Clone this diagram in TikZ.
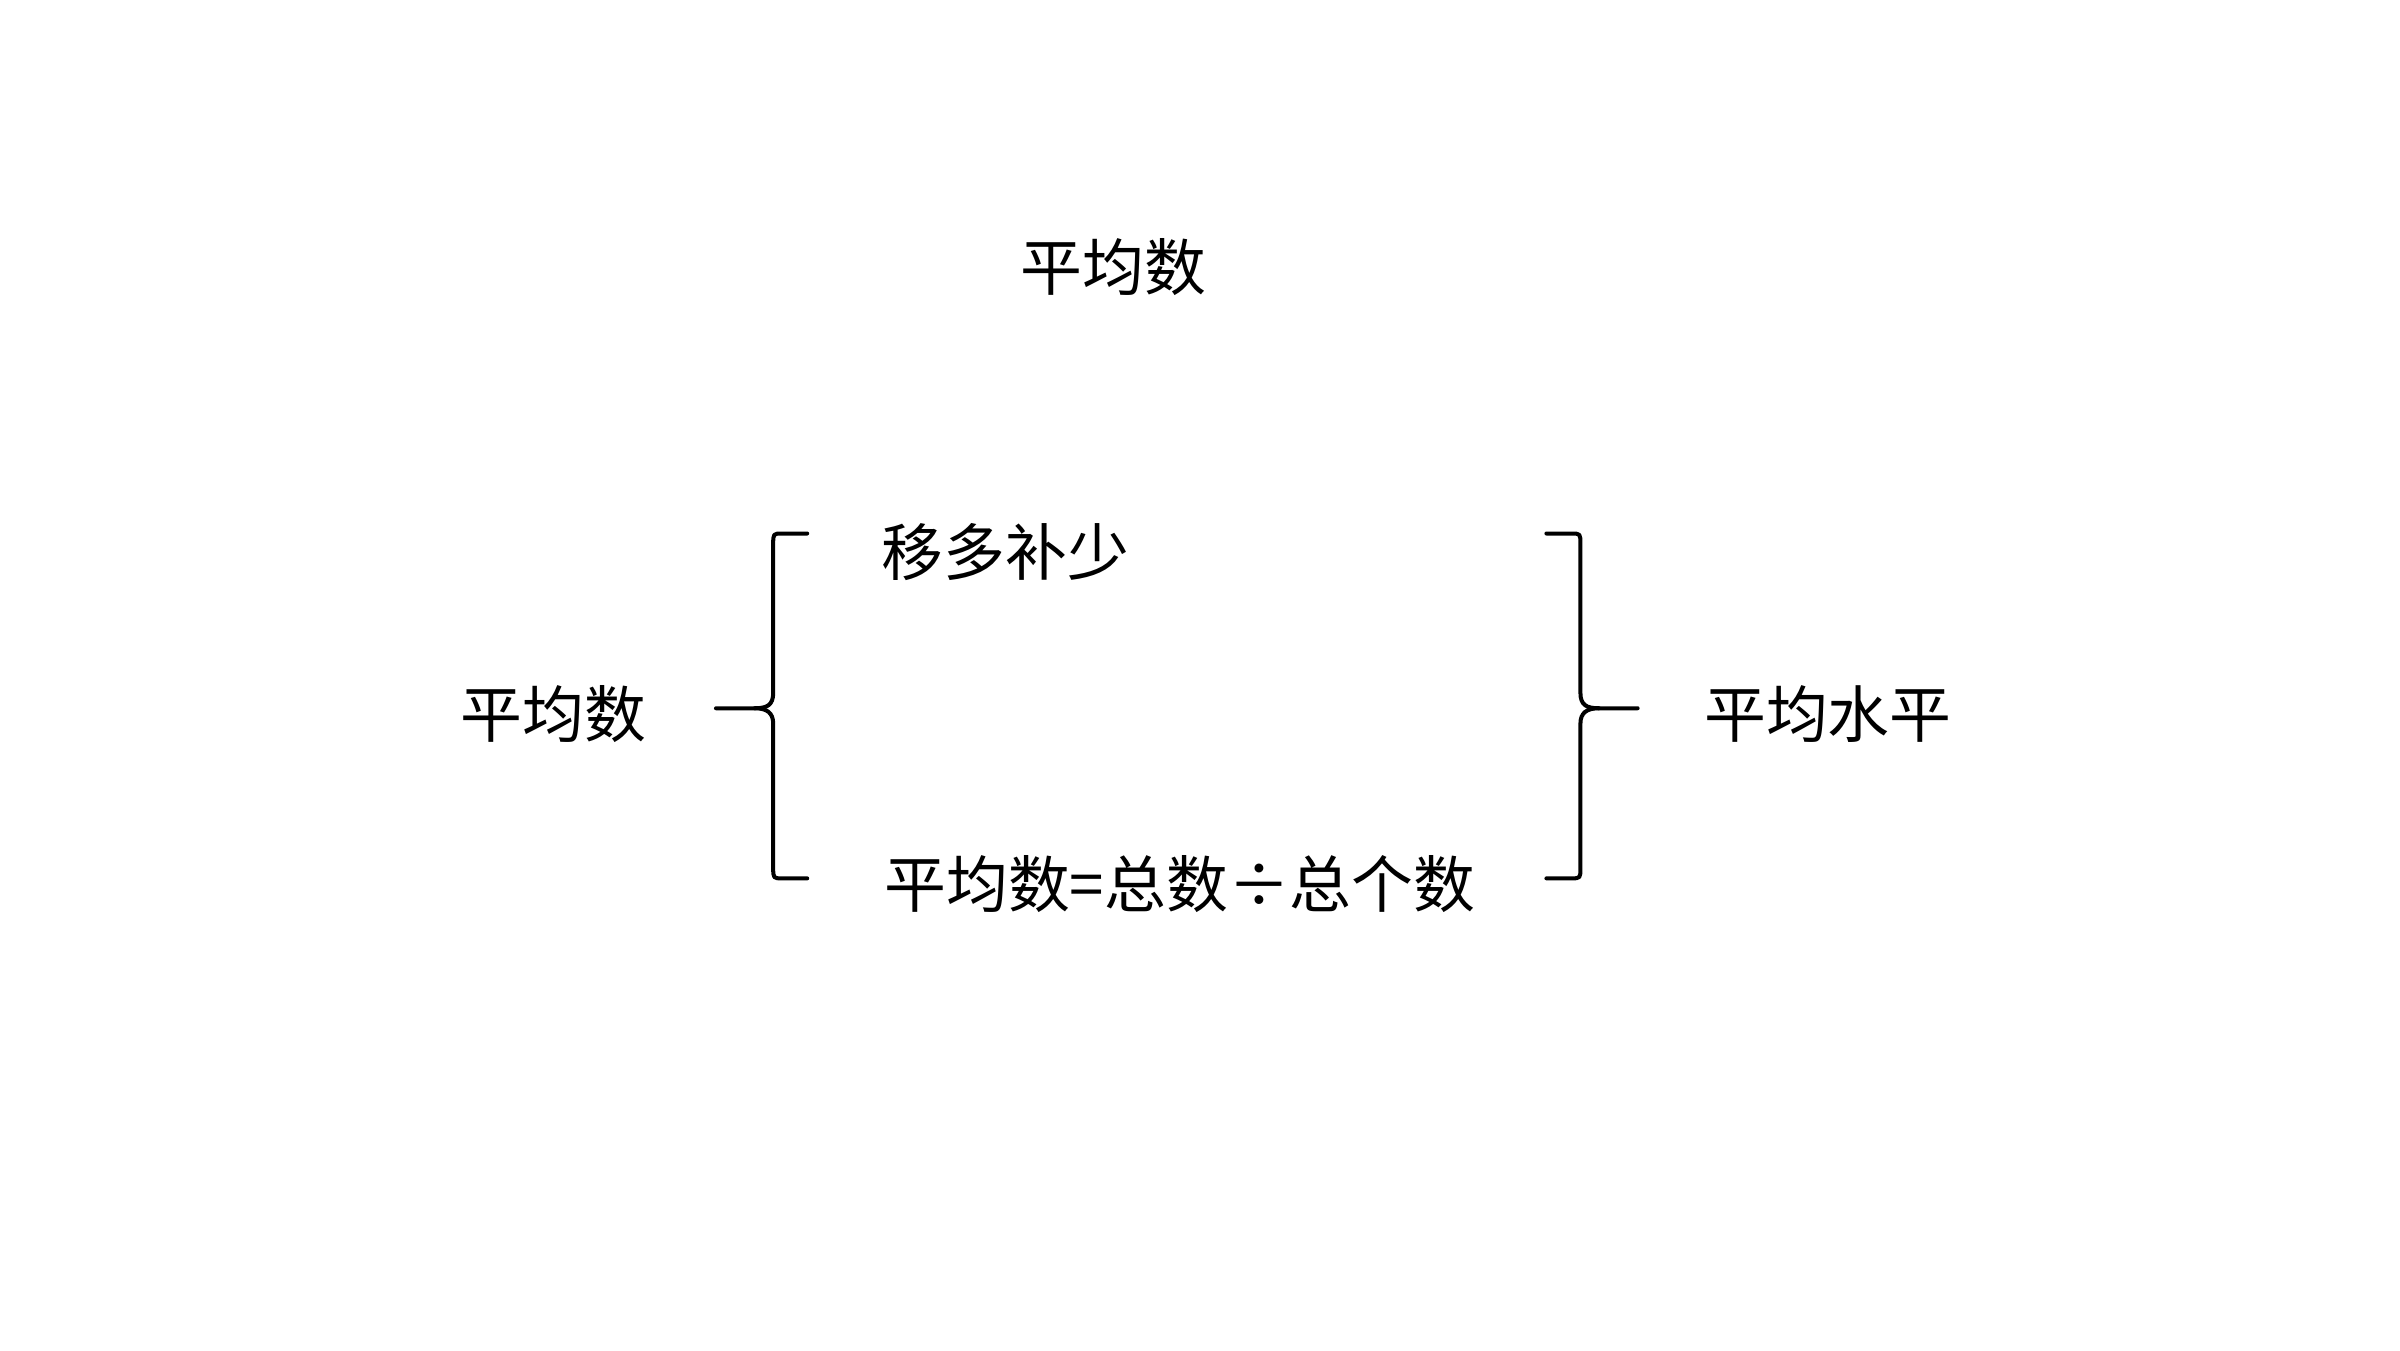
\documentclass[tikz,border=0pt]{standalone}
\usepackage{fontspec}
\newfontfamily\cjk{Noto Sans CJK SC}
\begin{document}
\begin{tikzpicture}[x=1pt,y=-1pt,
  lbl/.style={font=\cjk\fontsize{40}{44}\selectfont, inner sep=0pt},
  br/.style={line width=2.6pt, line cap=round, line join=round}]
\useasboundingbox (0,0) rectangle (1552,873);
\node[lbl] (title) at (720,173) {平均数};
\node[lbl] (left) at (358,462) {平均数};
\node[lbl] (top) at (650,357) {移多补少};
\node[lbl] (bot) at (763,572) {平均数=总数÷总个数};
\node[lbl] (right) at (1182,462) {平均水平};
% left brace
\draw[br] (522,345) -- (506,345) .. controls (500,345) .. (500,352) -- (500,448)
  .. controls (500,456) and (496,458) .. (488,458) -- (463,458);
\draw[br] (488,458) .. controls (496,458) and (500,461) .. (500,468) -- (500,561)
  .. controls (500,568) .. (506,568) -- (522,568);
% right brace
\draw[br] (1000,345) -- (1016,345) .. controls (1022,345) .. (1022,352) -- (1022,448)
  .. controls (1022,456) and (1026,458) .. (1034,458) -- (1059,458);
\draw[br] (1034,458) .. controls (1026,458) and (1022,461) .. (1022,468) -- (1022,561)
  .. controls (1022,568) .. (1016,568) -- (1000,568);
\end{tikzpicture}
\end{document}
